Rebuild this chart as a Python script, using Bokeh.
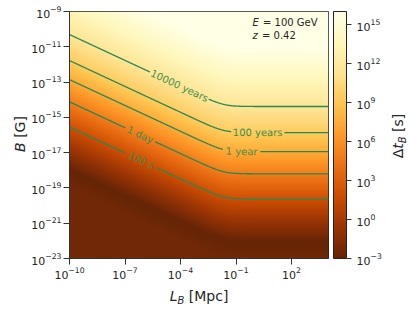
import numpy as np
from math import atan
from bokeh.plotting import figure
from bokeh.models import LogColorMapper, ColorBar, FixedTicker, LogTickFormatter, Label, Div
from bokeh.layouts import row, column
from bokeh.core.properties import value
from bokeh.embed import file_html
from bokeh.resources import INLINE

# ---------------- data ----------------
level_names = ["100 s", "1 day", "1 year", "100 years", "10000 years"]
level_seconds = [1e2, 8.64e4, 3.156e7, 3.156e9, 3.156e11]
# log10 B [G] of each contour on the flat part (large L_B)
level_logB_flat = [-19.63, -18.20, -16.94, -15.86, -14.385]
# log10 B [G] of each contour at L_B = 1e-10 Mpc
level_logB_left = [-15.58, -14.10, -12.83, -11.81, -10.30]
# log10 L_B [Mpc] where contours turn flat
kink_logL = -1.65
# label gaps along each contour (log10 L_B range)
label_gap_lo = [-6.98, -6.98, -1.69, -1.25, -5.63]
label_gap_hi = [-5.30, -5.39, 0.30, 1.60, -2.48]

x_ticks = [1e-10, 1e-7, 1e-4, 1e-1, 1e2]
y_ticks = [1e-23, 1e-21, 1e-19, 1e-17, 1e-15, 1e-13, 1e-11, 1e-9]
cb_ticks = [1e-3, 1e0, 1e3, 1e6, 1e9, 1e12, 1e15]
cb_low, cb_high = 1e-3, 1e16
x_lo, x_hi = 1e-10, 1e4
y_lo, y_hi = 1e-23, 1e-9

# ---------------- field built from the read contour levels ----------------
flat = np.array(level_logB_flat)
left = np.array(level_logB_left)
logt = np.log10(level_seconds)
slope = np.mean(left - flat) / (kink_logL - np.log10(x_lo))
w = 0.35

def softplus(u):
    return w * np.log1p(np.exp(u / w))

nx, ny = 420, 420
lx = np.linspace(np.log10(x_lo), np.log10(x_hi), nx)
lb = np.linspace(np.log10(y_lo), np.log10(y_hi), ny)
LX, LB = np.meshgrid(lx, lb)
Beff = LB - slope * softplus(kink_logL - LX)
f = np.interp(Beff, flat, logt)
lo_s = (logt[1] - logt[0]) / (flat[1] - flat[0])
hi_s = (logt[-1] - logt[-2]) / (flat[-1] - flat[-2])
f = np.where(Beff < flat[0], logt[0] + lo_s * (Beff - flat[0]), f)
f = np.where(Beff > flat[-1], logt[-1] + hi_s * (Beff - flat[-1]), f)
lmin = np.log10(cb_low)
f = np.where(f < lmin, lmin + 0.5 * np.minimum(1.0, (lmin - f) / 2.0), f)
f = np.clip(f, lmin, np.log10(cb_high))
img = 10.0 ** f

# colormap YlOrBr (dark -> light)
base = ['#662506', '#993404', '#cc4c02', '#ec7014', '#fe9929',
        '#fec44f', '#fee391', '#fff7bc', '#ffffe5']
rgb = np.array([[int(c[i:i + 2], 16) for i in (1, 3, 5)] for c in base], float)
pos = np.linspace(0, 1, len(base))
pal = []
for ti in np.linspace(0, 1, 256):
    r, g, b = (np.interp(ti, pos, rgb[:, k]) for k in range(3))
    pal.append('#%02x%02x%02x' % (int(round(r)), int(round(g)), int(round(b))))

mapper = LogColorMapper(palette=pal, low=cb_low, high=cb_high)

FONT = "DejaVu Sans"
TXT = "#262626"
FW, FH = 259, 247
BL, BR, BT, BB = 41, 58, 11, 30

p = figure(x_axis_type="log", y_axis_type="log",
           x_range=(x_lo, x_hi), y_range=(y_lo, y_hi),
           frame_width=FW, frame_height=FH,
           min_border_left=BL, min_border_right=BR, min_border_top=BT, min_border_bottom=BB,
           output_backend="svg", toolbar_location=None, margin=0)
p.image(image=[img], x=x_lo, y=y_lo, dw=x_hi - x_lo, dh=y_hi - y_lo, color_mapper=mapper)

# contours
GREEN = "#238a55"
lab_x, lab_y, lab_a = [], [], []
px_ratio = (FH / 14.0) / (FW / 14.0)
for i, name in enumerate(level_names):
    xs = np.linspace(np.log10(x_lo), np.log10(x_hi), 600)
    ys = flat[i] + slope * softplus(kink_logL - xs)
    for mask in (xs <= label_gap_lo[i], xs >= label_gap_hi[i]):
        p.line(10 ** xs[mask], 10 ** ys[mask], line_color=GREEN, line_width=1.3)
    xm = 0.5 * (label_gap_lo[i] + label_gap_hi[i])
    ym = flat[i] + slope * softplus(kink_logL - xm)
    d = -slope / (1 + np.exp(-(kink_logL - xm) / w))
    lab_x.append(10 ** xm); lab_y.append(10 ** ym); lab_a.append(atan(d * px_ratio))
p.text(x=lab_x, y=lab_y, text=level_names, angle=lab_a,
       text_font=value(FONT), text_font_size="10px", text_color="#3f8f4a",
       text_align="center", text_baseline="middle")

# axes
for ax, ticks in ((p.xaxis, x_ticks), (p.yaxis, y_ticks)):
    ax.ticker = FixedTicker(ticks=ticks)
    ax.formatter = LogTickFormatter()
    ax.major_label_text_font = FONT
    ax.major_label_text_font_size = "11px"
    ax.major_label_text_color = TXT
    ax.major_tick_out = 6
    ax.major_tick_in = 0
    ax.minor_tick_line_color = None
    ax.axis_line_color = "#333333"
    ax.major_tick_line_color = "#333333"
    ax.major_label_standoff = 2
p.grid.visible = False
p.outline_line_color = "#222222"
p.outline_line_width = 1

cb = ColorBar(color_mapper=mapper, ticker=FixedTicker(ticks=cb_ticks),
              formatter=LogTickFormatter(), width=13, padding=0,
              location=(5, 0), bar_line_color="#222222",
              major_tick_out=5, major_tick_in=0, major_tick_line_color="#333333",
              minor_tick_line_color=None, label_standoff=5,
              major_label_text_font=FONT, major_label_text_font_size="11px",
              major_label_text_color=TXT, background_fill_alpha=0,
              border_line_color=None)
p.add_layout(cb, "right")

def lab(text, x, y, style="normal"):
    p.add_layout(Label(x=x, y=y, x_units="screen", y_units="screen", text=text,
                       text_font=FONT, text_font_size="10px", text_font_style=style,
                       text_color=TXT, text_align="left", text_baseline="middle"))

# annotation in the upper right
lab("E", 183, 236, "italic")
lab("= 100 GeV", 193.5, 236)
lab("z", 183, 223, "italic")
lab("= 0.42", 192.5, 223)

# axis titles as HTML text around the figure
PW = BL + FW + BR
PH = BT + FH + BB
LW, RW, BH = 28, 23, 20
span = ("position:absolute;left:{x}px;top:{y}px;transform:translate(-50%,-50%){rot};"
        "white-space:nowrap;font-family:'DejaVu Sans';font-size:14px;line-height:1;color:#262626;")
sub = "<span style='font-size:10px;position:relative;top:3px'><i>B</i></span>"

ylab = Div(text=("<div style='position:relative;width:%dpx;height:%dpx'>" % (LW, PH + BH)) +
           "<span style=\"" + span.format(x=20, y=134, rot=" rotate(-90deg)") + "\"><i>B</i> [G]</span></div>",
           width=LW, height=PH + BH, margin=0)
xlab = Div(text=("<div style='position:relative;width:%dpx;height:%dpx'>" % (PW, BH)) +
           "<span style=\"" + span.format(x=171, y=8, rot="") + "\"><i>L</i>" + sub + " [Mpc]</span></div>",
           width=PW, height=BH, margin=0)
clab = Div(text=("<div style='position:relative;width:%dpx;height:%dpx'>" % (RW, PH + BH)) +
           "<span style=\"" + span.format(x=12, y=136, rot=" rotate(-90deg)") + "\">&Delta;<i>t</i>" + sub + " [s]</span></div>",
           width=RW, height=PH + BH, margin=0)

layout = row(ylab, column(p, xlab, spacing=0, margin=0), clab, spacing=0, margin=0)

open("out.html", "w").write(file_html(layout, INLINE))
